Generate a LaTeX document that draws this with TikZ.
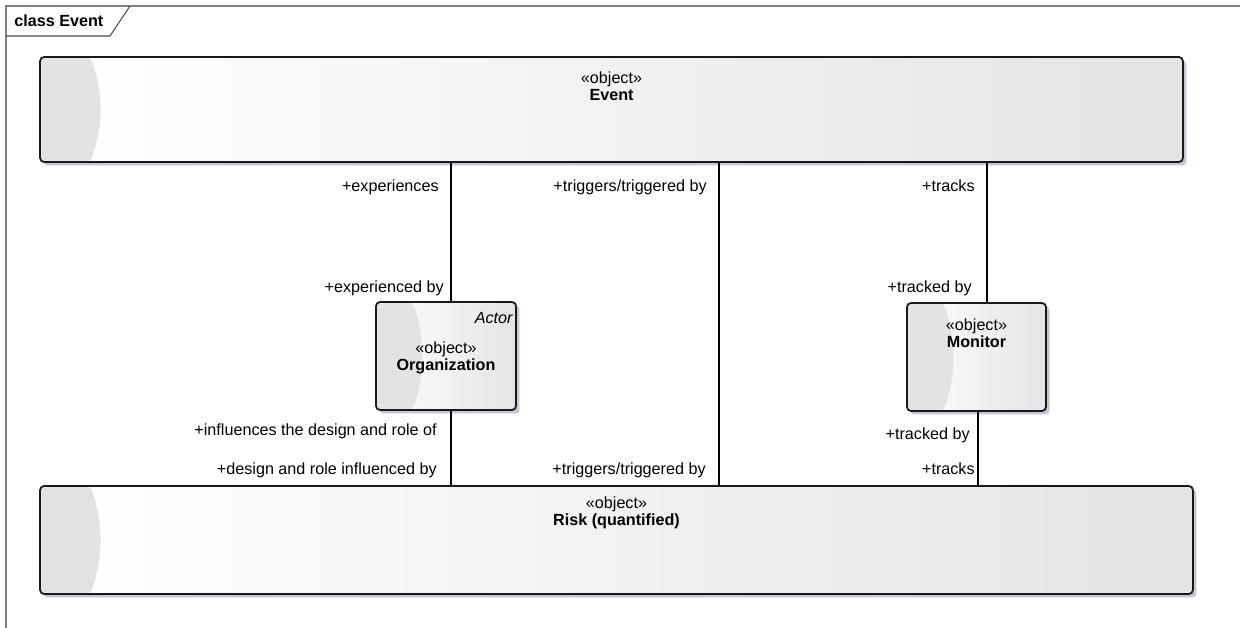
\documentclass[tikz,border=0pt]{standalone}
\usepackage{fontspec}
\setmainfont{Liberation Sans}
\usepackage{tikz}
\usetikzlibrary{positioning,shadows,calc}

\definecolor{framegray}{HTML}{808080}
\definecolor{lensgray}{HTML}{E3E3E3}
\definecolor{boxgray}{HTML}{E4E4E4}
\definecolor{shadowblue}{HTML}{C2C6D6}

\tikzset{
  lens width/.store in=\lenswidth, lens width=1cm,
  objbox/.style={draw=black!90, line width=1pt, rounded corners=0.08cm,
    left color=white, right color=boxgray,
    drop shadow={shadow xshift=0.07cm, shadow yshift=-0.07cm, fill=shadowblue, opacity=1},
    path picture={
      \coordinate (nw) at (path picture bounding box.north west);
      \coordinate (sw) at (path picture bounding box.south west);
      \fill[lensgray] (nw) -- ([xshift=\lenswidth]nw)
        .. controls ([xshift=\lenswidth+0.27cm]$(nw)!0.333!(sw)$)
        and ([xshift=\lenswidth+0.27cm]$(nw)!0.667!(sw)$)
        .. ([xshift=\lenswidth]sw) -- (sw) -- cycle;
    }},
  stereo/.style={align=center, inner sep=0pt, font=\fontsize{9.2}{9.8}\selectfont},
  role/.style={anchor=east, inner sep=0pt, font=\fontsize{9.2}{11}\selectfont,
    text height=1.4ex, text depth=0.3ex},
  assoc/.style={draw=black, line width=0.7pt},
}

\begin{document}
\begin{tikzpicture}[x=0.02cm, y=-0.02cm]
  \useasboundingbox (0,0) rectangle (1240,628);

  % frame and tab
  \draw[framegray, line width=1.1pt] (6,628) -- (6,6) -- (1240,6);
  \draw[black!70, line width=0.6pt] (6,36) -- (110,36) -- (130,6);
  \node[anchor=west, inner sep=0pt, font=\fontsize{9.2}{11}\selectfont\bfseries] (title) at (14,21) {class Event};

  % Event
  \node[objbox, minimum width=22.86cm, minimum height=2.1cm] (event) at (611.5,109.5) {};
  \node[stereo, below=0.31cm of event.north] (eventtxt) {«object»\\\textbf{Event}};

  % Organization
  \node[objbox, lens width=0.72cm, minimum width=2.8cm, minimum height=2.16cm] (org) at (446,356) {};
  \node[stereo, below=0.8cm of org.north] (orgtxt) {«object»\\\textbf{Organization}};
  \node[stereo, font=\fontsize{9.2}{9.8}\selectfont\itshape, below left=0.22cm and 0.08cm of org.north east] (actor) {Actor};

  % Monitor
  \node[objbox, lens width=0.72cm, minimum width=2.78cm, minimum height=2.16cm] (monitor) at (976.5,357) {};
  \node[stereo, below=0.32cm of monitor.north] (montxt) {«object»\\\textbf{Monitor}};

  % Risk (quantified)
  \node[objbox, minimum width=23.06cm, minimum height=2.16cm] (risk) at (616.5,540) {};
  \node[stereo, below=0.22cm of risk.north] (risktxt) {«object»\\\textbf{Risk (quantified)}};

  % associations
  \coordinate (trig) at (719,0);
  \draw[assoc] ([xshift=0.1cm]org.north |- event.south) -- ([xshift=0.1cm]org.north);
  \draw[assoc] ([xshift=0.1cm]org.south) -- ([xshift=0.1cm]org.south |- risk.north);
  \draw[assoc] (event.south -| trig) -- (risk.north -| trig);
  \draw[assoc] ([xshift=0.21cm]monitor.north |- event.south) -- ([xshift=0.21cm]monitor.north);
  \draw[assoc] ([xshift=0.03cm]monitor.south) -- ([xshift=0.03cm]monitor.south |- risk.north);

  % role names
  \node[role] at (439,186) {+experiences};
  \node[role] at (707,186) {+triggers/triggered by};
  \node[role] at (975,186) {+tracks};
  \node[role] at (444,287) {+experienced by};
  \node[role] at (972,287) {+tracked by};
  \node[role] at (437,430) {+influences the design and role of};
  \node[role] at (437,469) {+design and role influenced by};
  \node[role] at (706,469) {+triggers/triggered by};
  \node[role] at (970,434) {+tracked by};
  \node[role] at (975,469) {+tracks};
\end{tikzpicture}
\end{document}
